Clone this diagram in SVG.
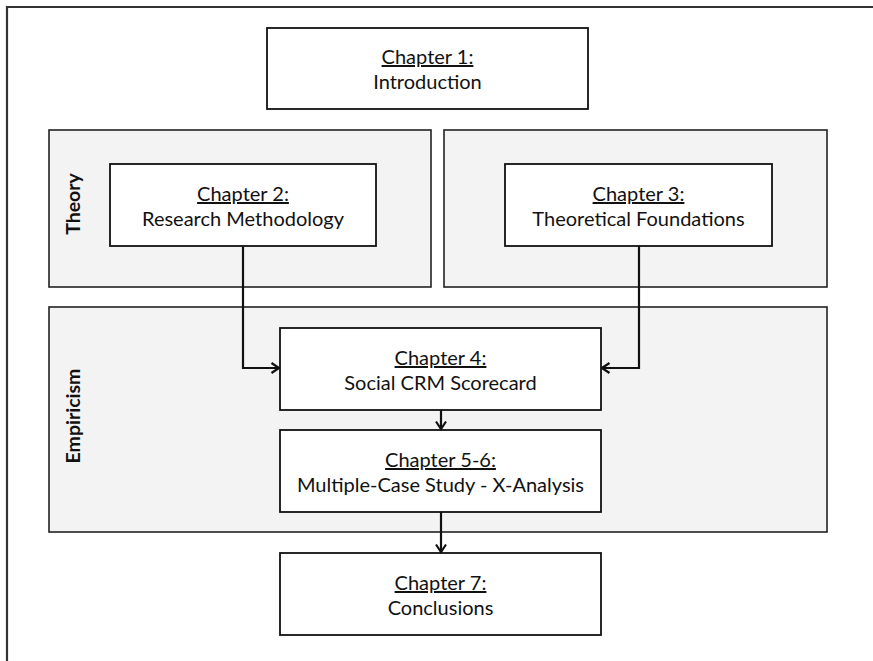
<svg xmlns="http://www.w3.org/2000/svg" width="873" height="661" viewBox="0 0 873 661">
  <defs>
    <marker id="arrow" viewBox="0 0 12 12" refX="10.5" refY="6" markerWidth="12" markerHeight="12" markerUnits="userSpaceOnUse" orient="auto">
      <path d="M3,1 L10.5,6 L3,11" fill="none" stroke="#111" stroke-width="2.2"/>
    </marker>
  </defs>
  <style>
    .frame { stroke: #333; stroke-width: 2.2; fill: none; }
    .panel { fill: #f3f3f3; stroke: #222; stroke-width: 1.6; }
    .box { fill: #fff; stroke: #111; stroke-width: 1.8; }
    .label { font-family: Lato, "Liberation Sans", sans-serif; font-size: 20px; fill: #111; text-anchor: middle; }
    .title { text-decoration: underline; }
    .side { font-family: Lato, "Liberation Sans", sans-serif; font-size: 19.5px; font-weight: bold; fill: #111; text-anchor: middle; }
    .conn { fill: none; stroke: #111; stroke-width: 2.2; marker-end: url(#arrow); }
  </style>

  <rect width="873" height="661" fill="#fff"/>
  <!-- page frame: top and left edges -->
  <path class="frame" d="M7,661 L7,7 L873,7"/>

  <!-- section panels -->
  <g id="theory-left">
    <rect class="panel" x="49" y="130" width="382" height="157"/>
    <text class="side" transform="translate(80,204) rotate(-90)">Theory</text>
  </g>
  <g id="theory-right">
    <rect class="panel" x="444" y="130" width="383" height="157"/>
  </g>
  <g id="empiricism">
    <rect class="panel" x="49" y="307" width="778" height="225"/>
    <text class="side" transform="translate(80,416) rotate(-90)">Empiricism</text>
  </g>

  <!-- chapters -->
  <g id="ch1">
    <rect class="box" x="267" y="28" width="321" height="81"/>
    <text class="label" x="427.5" y="64"><tspan class="title">Chapter 1:</tspan><tspan x="427.5" dy="25">Introduction</tspan></text>
  </g>
  <g id="ch2">
    <rect class="box" x="110" y="164" width="266" height="82"/>
    <text class="label" x="243" y="201"><tspan class="title">Chapter 2:</tspan><tspan x="243" dy="25">Research Methodology</tspan></text>
  </g>
  <g id="ch3">
    <rect class="box" x="505" y="164" width="267" height="82"/>
    <text class="label" x="638.5" y="201"><tspan class="title">Chapter 3:</tspan><tspan x="638.5" dy="25">Theoretical Foundations</tspan></text>
  </g>
  <g id="ch4">
    <rect class="box" x="280" y="328" width="321" height="82"/>
    <text class="label" x="440.5" y="365"><tspan class="title">Chapter 4:</tspan><tspan x="440.5" dy="25">Social CRM Scorecard</tspan></text>
  </g>
  <g id="ch5-6">
    <rect class="box" x="280" y="430" width="321" height="82"/>
    <text class="label" x="440.5" y="467"><tspan class="title">Chapter 5-6:</tspan><tspan x="440.5" dy="25">Multiple-Case Study - X-Analysis</tspan></text>
  </g>
  <g id="ch7">
    <rect class="box" x="280" y="553" width="321" height="82"/>
    <text class="label" x="440.5" y="590"><tspan class="title">Chapter 7:</tspan><tspan x="440.5" dy="25">Conclusions</tspan></text>
  </g>

  <!-- connectors -->
  <g id="connectors">
    <path class="conn" d="M243,246 L243,368 L279,368"/>
    <path class="conn" d="M639,246 L639,368 L602,368"/>
    <path class="conn" d="M441,410 L441,429"/>
    <path class="conn" d="M441,512 L441,552"/>
  </g>
</svg>
